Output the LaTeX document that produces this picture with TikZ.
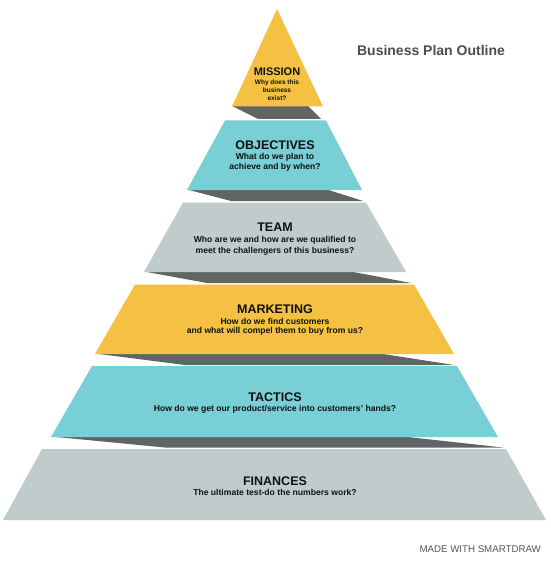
\documentclass[tikz,border=0pt]{standalone}
\usepackage{fontspec}
\setmainfont{Liberation Sans}
\definecolor{tierYellow}{HTML}{F4C143}
\definecolor{tierCyan}{HTML}{78CFD6}
\definecolor{tierGray}{HTML}{BFCCCB}
\definecolor{shadowGray}{HTML}{5E6564}
\definecolor{txtDark}{HTML}{111111}
\definecolor{titleGray}{HTML}{4D4D4D}
\definecolor{wmGray}{HTML}{555555}
\begin{document}
\begin{tikzpicture}[x=1pt,y=-1pt,
  shadowpart/.style={fill=shadowGray},
  head/.style={font=\bfseries\fontsize{12.5}{14}\selectfont, text=txtDark, inner sep=0pt, anchor=base},
  subline/.style={font=\bfseries\fontsize{8.6}{10}\selectfont, text=txtDark, inner sep=0pt, anchor=base},
  smallhead/.style={head, font=\bfseries\fontsize{11}{13}\selectfont},
  smallsub/.style={subline, font=\bfseries\fontsize{6.5}{8}\selectfont}]
\useasboundingbox (0,0) rectangle (550,564);
\fill[white] (0,0) rectangle (550,564);

% shadows
\fill[shadowpart] (232,106) -- (308,106) -- (321,119) -- (258,119) -- cycle;
\fill[shadowpart] (187,189.5) -- (327,189.5) -- (363,201) -- (231,201) -- cycle;
\fill[shadowpart] (144,271.5) -- (351,271.5) -- (411,283) -- (207,283) -- cycle;
\fill[shadowpart] (95,353.5) -- (380,353.5) -- (454,365) -- (185,365) -- cycle;
\fill[shadowpart] (51,436.5) -- (403,436.5) -- (503,447.5) -- (165,447.5) -- cycle;

% tiers
\fill[tierYellow] (277,9) -- (323,106.5) -- (232,106.5) -- cycle;
\fill[tierCyan] (225,120.5) -- (326,120.5) -- (362,190) -- (187,190) -- cycle;
\fill[tierGray] (183,202.5) -- (366,202.5) -- (406,272) -- (144,272) -- cycle;
\fill[tierYellow] (135,284.5) -- (414,284.5) -- (454,354) -- (95,354) -- cycle;
\fill[tierCyan] (92,366) -- (457,366) -- (498,437) -- (51,437) -- cycle;
\fill[tierGray] (42,449) -- (506,449) -- (546,520) -- (3,520) -- cycle;

% texts
\node[smallhead] (mission) at (277,76) {MISSION};
\node[smallsub] (missionA) at (277,84.5) {Why does this};
\node[smallsub] (missionB) at (277,92.5) {business};
\node[smallsub] (missionC) at (277,100.5) {exist?};

\node[head] (objectives) at (275,149.5) {OBJECTIVES};
\node[subline] (objectivesA) at (275,160) {What do we plan to};
\node[subline] (objectivesB) at (275,170) {achieve and by when?};

\node[head] (team) at (275,231) {TEAM};
\node[subline] (teamA) at (275,242.5) {Who are we and how are we qualified to};
\node[subline] (teamB) at (275,253) {meet the challengers of this business?};

\node[head] (marketing) at (275,313) {MARKETING};
\node[subline] (marketingA) at (275,324) {How do we find customers};
\node[subline] (marketingB) at (275,333.5) {and what will compel them to buy from us?};

\node[head] (tactics) at (275,401) {TACTICS};
\node[subline] (tacticsA) at (275,411) {How do we get our product/service into customers' hands?};

\node[head] (finances) at (275,485.5) {FINANCES};
\node[subline] (financesA) at (275,495.5) {The ultimate test-do the numbers work?};

\node[font=\bfseries\fontsize{14}{16}\selectfont, text=titleGray, inner sep=0pt, anchor=base] (title) at (431,55.5) {Business Plan Outline};
\node[font=\fontsize{9.7}{11}\selectfont, text=wmGray, inner sep=0pt, anchor=base east] (watermark) at (541,552) {MADE WITH SMARTDRAW};
\end{tikzpicture}
\end{document}
